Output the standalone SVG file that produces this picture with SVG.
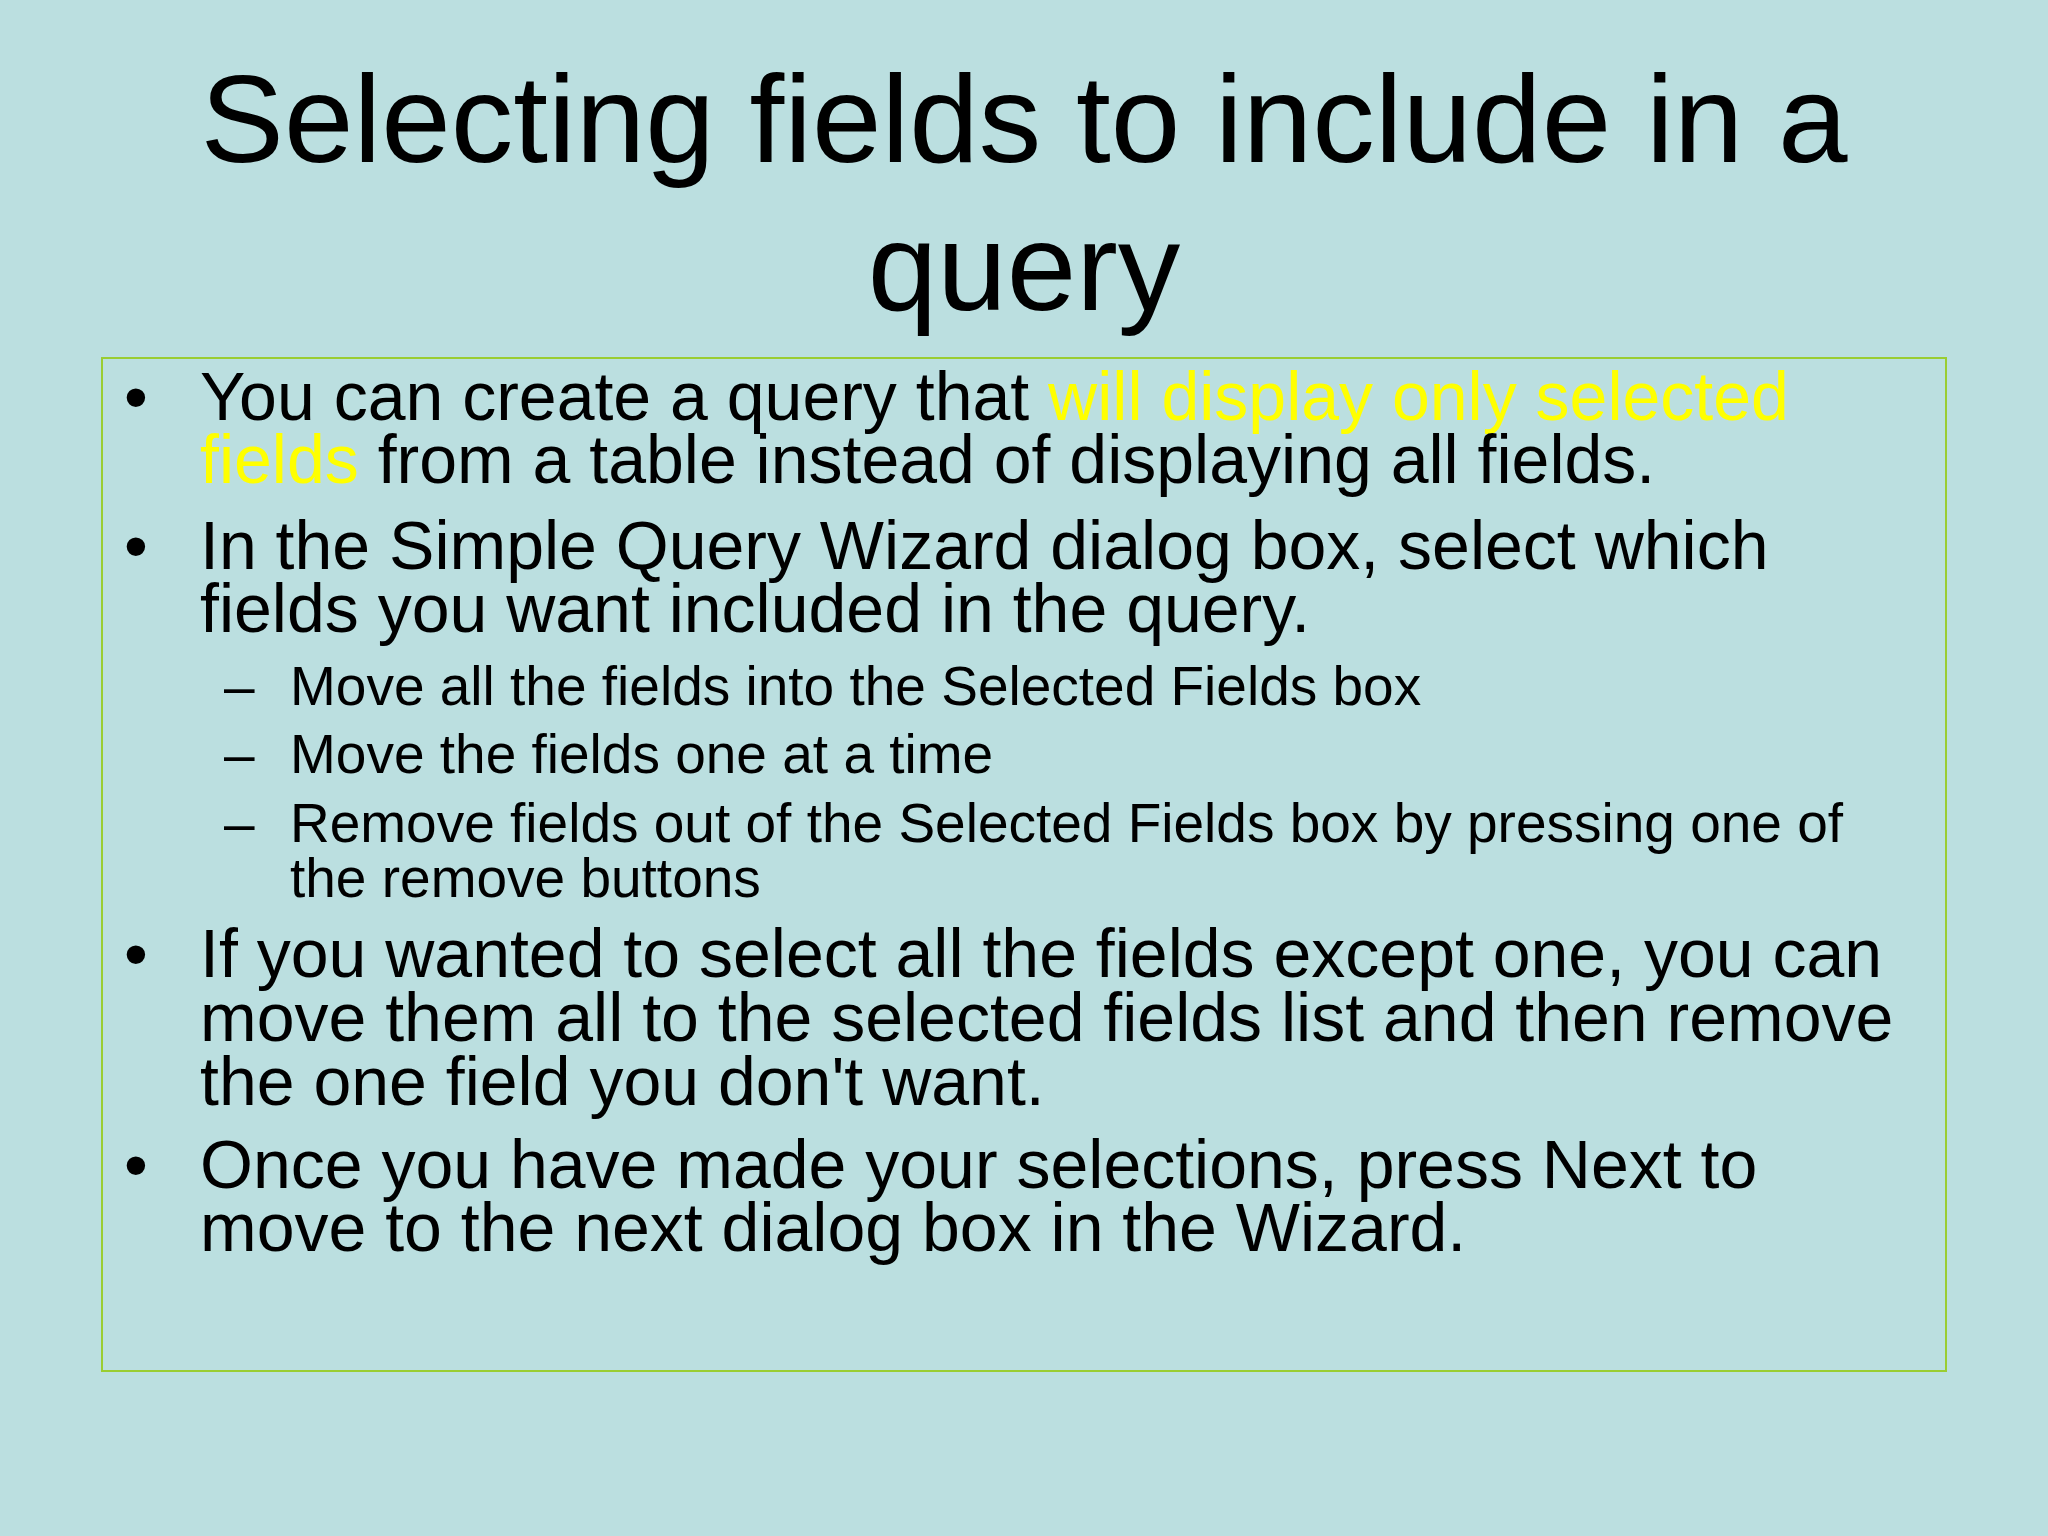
<svg xmlns="http://www.w3.org/2000/svg" width="2048" height="1536" viewBox="0 0 2048 1536">
<style>
text{font-family:"Liberation Sans",Arial,sans-serif;fill:#000}
.t{font-size:125px}
.b{font-size:68px}
.s{font-size:55px}
.y{fill:#ffff00}
</style>
<rect width="2048" height="1536" fill="#bbdfe0"/>
<g id="title">
<text class="t" x="1024" y="162" text-anchor="middle">Selecting fields to include in a</text>
<text class="t" x="1024" y="310" text-anchor="middle">query</text>
</g>
<g id="body">
<rect x="102" y="358" width="1844" height="1013" fill="none" stroke="#9acd32" stroke-width="2"/>
<text class="b" x="124" y="420">•</text>
<text class="b" x="200" y="420">You can create a query that <tspan class="y">will display only selected</tspan></text>
<text class="b" x="200" y="483"><tspan class="y">fields</tspan> from a table instead of displaying all fields.</text>
<text class="b" x="124" y="569">•</text>
<text class="b" x="200" y="569">In the Simple Query Wizard dialog box, select which</text>
<text class="b" x="200" y="632">fields you want included in the query.</text>
<text class="s" x="224" y="705">–</text>
<text class="s" x="290" y="705">Move all the fields into the Selected Fields box</text>
<text class="s" x="224" y="773">–</text>
<text class="s" x="290" y="773">Move the fields one at a time</text>
<text class="s" x="224" y="842">–</text>
<text class="s" x="290" y="842">Remove fields out of the Selected Fields box by pressing one of</text>
<text class="s" x="290" y="897">the remove buttons</text>
<text class="b" x="124" y="977">•</text>
<text class="b" x="200" y="977">If you wanted to select all the fields except one, you can</text>
<text class="b" x="200" y="1041">move them all to the selected fields list and then remove</text>
<text class="b" x="200" y="1105">the one field you don't want.</text>
<text class="b" x="124" y="1188">•</text>
<text class="b" x="200" y="1188">Once you have made your selections, press Next to</text>
<text class="b" x="200" y="1251">move to the next dialog box in the Wizard.</text>
</g>
</svg>
